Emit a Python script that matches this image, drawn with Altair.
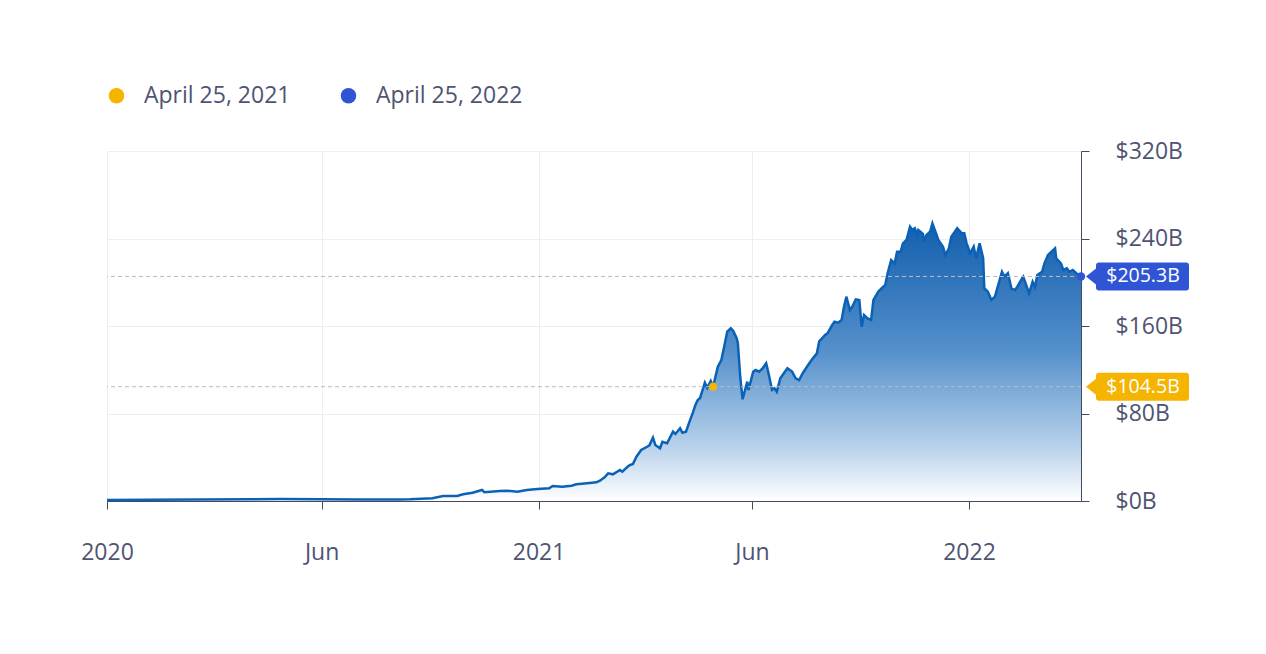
import altair as alt
import pandas as pd

# ---------------- data ----------------
dates = [
    "2020-01-01", "2020-02-06", "2020-03-20", "2020-05-01", "2020-05-27", "2020-06-30",
    "2020-08-02", "2020-09-05", "2020-09-14", "2020-10-03", "2020-10-12", "2020-10-24",
    "2020-10-29", "2020-11-06", "2020-11-14", "2020-11-16", "2020-11-29", "2020-12-05",
    "2020-12-14", "2020-12-22", "2020-12-31", "2021-01-10", "2021-01-13", "2021-01-21",
    "2021-01-29", "2021-02-02", "2021-02-11", "2021-02-19", "2021-02-22", "2021-02-26",
    "2021-03-01", "2021-03-05", "2021-03-11", "2021-03-13", "2021-03-17", "2021-03-19",
    "2021-03-22", "2021-03-25", "2021-03-29", "2021-04-03", "2021-04-05", "2021-04-08",
    "2021-04-10", "2021-04-14", "2021-04-16", "2021-04-20", "2021-04-25", "2021-04-27",
    "2021-05-01", "2021-05-03", "2021-05-06", "2021-05-09", "2021-05-12", "2021-05-14",
    "2021-05-16", "2021-05-18", "2021-05-22", "2021-05-24", "2021-05-27", "2021-05-29",
    "2021-06-02", "2021-06-05", "2021-06-08", "2021-06-10", "2021-06-13", "2021-06-15",
    "2021-06-18", "2021-06-19", "2021-06-21", "2021-06-23", "2021-06-27", "2021-06-28",
    "2021-07-02", "2021-07-04", "2021-07-07", "2021-07-10", "2021-07-13", "2021-07-15",
    "2021-07-18", "2021-07-20", "2021-07-22", "2021-07-25", "2021-07-28", "2021-07-31",
    "2021-08-04", "2021-08-07", "2021-08-10", "2021-08-13", "2021-08-17", "2021-08-21",
    "2021-08-25", "2021-08-27", "2021-09-01", "2021-09-03", "2021-09-07", "2021-09-09",
    "2021-09-12", "2021-09-15", "2021-09-17", "2021-09-19", "2021-09-22", "2021-09-24",
    "2021-09-27", "2021-09-30", "2021-10-02", "2021-10-04", "2021-10-07", "2021-10-10",
    "2021-10-12", "2021-10-16", "2021-10-19", "2021-10-22", "2021-10-24", "2021-10-27",
    "2021-10-30", "2021-11-01", "2021-11-04", "2021-11-06", "2021-11-09", "2021-11-12",
    "2021-11-14", "2021-11-16", "2021-11-18", "2021-11-19", "2021-11-23", "2021-11-24",
    "2021-11-26", "2021-11-29", "2021-12-01", "2021-12-04", "2021-12-06", "2021-12-10",
    "2021-12-12", "2021-12-15", "2021-12-17", "2021-12-20", "2021-12-22", "2021-12-26",
    "2021-12-28", "2021-12-30", "2022-01-02", "2022-01-05", "2022-01-07", "2022-01-10",
    "2022-01-13", "2022-01-14", "2022-01-17", "2022-01-20", "2022-01-23", "2022-01-25",
    "2022-01-29", "2022-01-31", "2022-02-03", "2022-02-06", "2022-02-09", "2022-02-11",
    "2022-02-15", "2022-02-16", "2022-02-19", "2022-02-21", "2022-02-24", "2022-02-26",
    "2022-02-28", "2022-03-04", "2022-03-06", "2022-03-09", "2022-03-12", "2022-03-15",
    "2022-03-16", "2022-03-20", "2022-03-22", "2022-03-25", "2022-03-27", "2022-03-30",
    "2022-04-02", "2022-04-06",
]
values = [
    0.9, 1.1, 1.4, 1.6, 1.8, 1.6,
    1.4, 1.4, 1.6, 2.5, 4.6, 4.6,
    6.1, 7.6, 10.1, 8.0, 9.1, 9.4,
    8.5, 10.1, 11.0, 11.6, 13.7, 13.1,
    14.0, 15.3, 16.2, 17.1, 18.6, 21.7,
    25.3, 24.4, 28.3, 26.8, 30.8, 32.6,
    33.8, 40.5, 46.6, 49.6, 50.9, 57.9,
    51.2, 48.2, 54.2, 52.8, 63.4, 61.3,
    66.5, 62.4, 63.4, 72.5, 81.2, 87.8,
    92.3, 94.2, 108.2, 103.5, 109.7, 104.5,
    122.8, 128.9, 144.2, 154.8, 157.9, 155.7,
    148.8, 144.2, 113.6, 93.0, 109.1, 101.5,
    118.2, 119.8, 118.2, 121.3, 125.9, 116.8,
    101.5, 103.0, 99.9, 112.2, 116.8, 121.3,
    118.2, 112.2, 110.6, 116.8, 123.4, 129.6,
    135.0, 146.0, 151.8, 153.3, 160.9, 163.9,
    163.0, 165.5, 177.6, 186.8, 174.6, 177.6,
    184.4, 183.8, 159.4, 170.1, 167.0, 165.5,
    183.8, 191.4, 194.5, 197.5, 208.2, 220.3,
    217.3, 227.9, 227.9, 235.6, 238.6, 250.8,
    247.8, 249.3, 243.2, 247.8, 244.1, 237.1,
    243.2, 246.2, 253.9, 244.8, 238.6, 232.5,
    224.9, 231.0, 241.6, 246.2, 249.3, 244.8,
    244.8, 235.6, 226.5, 232.5, 221.9, 235.6,
    222.2, 194.5, 191.4, 183.8, 186.8, 194.5,
    209.6, 205.1, 208.2, 194.5, 192.9, 195.9,
    203.6, 205.1, 195.9, 189.9, 200.5, 195.9,
    206.6, 209.6, 217.3, 224.9, 227.9, 231.0,
    221.9, 217.3, 211.2, 212.7, 209.6, 211.2,
    208.2, 205.3,
]

tick_dates = ["2020-01-01", "2020-07-01", "2021-01-01", "2021-07-01", "2022-01-01"]
tick_labels = ["2020", "Jun", "2021", "Jun", "2022"]
y_ticks = [0, 80, 160, 240, 320]
domain_dates = ["2020-01-01", "2022-04-06"]

marker_labels = ["April 25, 2021", "April 25, 2022"]
marker_dates = ["2021-05-29", "2022-04-06"]
marker_values = [104.5, 205.3]
badge_texts = ["$104.5B", "$205.3B"]
marker_colors = ["#F5B400", "#2F55D4"]

# ---------------- helpers ----------------
def to_ms(d):
    return int(pd.Timestamp(d, tz="UTC").value // 10**6)

tick_ms = [to_ms(d) for d in tick_dates]
domain_ms = [to_ms(d) for d in domain_dates]
label_expr = " : ".join(
    f"time(datum.value) == {ms} ? '{lab}'" for ms, lab in zip(tick_ms, tick_labels)
) + " : ''"

series = pd.DataFrame({"date": dates, "value": values})
markers = pd.DataFrame({"label": marker_labels, "date": marker_dates, "value": marker_values})
badges = pd.DataFrame({
    "label": marker_labels,
    "edge": [domain_dates[1]] * len(marker_labels),
    "value": marker_values,
    "text": badge_texts,
})

FONT = "Open Sans"
TEXT = "#4f5472"
AXIS = "#444a60"

xscale = alt.Scale(type="utc", domain=domain_ms, nice=False)
yscale = alt.Scale(domain=[0, 320], nice=False)
cscale = alt.Scale(domain=marker_labels, range=marker_colors)

x_axis = alt.Axis(values=tick_ms, labelExpr=label_expr, title=None, grid=True,
                  gridColor="#eeeeee", domainColor=AXIS, tickColor=AXIS, tickSize=8,
                  labelPadding=32, labelFontSize=23, labelColor=TEXT, labelFont=FONT,
                  labelFlush=False, labelOverlap=False)
y_axis = alt.Axis(orient="right", values=y_ticks, labelExpr="'$' + datum.value + 'B'",
                  title=None, grid=True, gridColor="#eeeeee", domainColor=AXIS,
                  tickColor=AXIS, tickSize=8, labelPadding=26, labelFontSize=23,
                  labelColor=TEXT, labelFont=FONT)

base = alt.Chart(series)

area = base.mark_area(
    color=alt.Gradient(
        gradient="linear",
        stops=[
            alt.GradientStop(color="#0c5aab", offset=0),
            alt.GradientStop(color="#4d8bc9", offset=0.45),
            alt.GradientStop(color="#b4cfea", offset=0.8),
            alt.GradientStop(color="#ffffff", offset=1),
        ],
        x1=0, x2=0, y1=0, y2=1,
    ),
    opacity=0.97,
).encode(
    x=alt.X("date:T", scale=xscale, axis=x_axis),
    y=alt.Y("value:Q", scale=yscale, axis=y_axis),
)

line = base.mark_line(color="#0a62b6", strokeWidth=2.5).encode(
    x=alt.X("date:T", scale=xscale),
    y=alt.Y("value:Q", scale=yscale),
)

rules = alt.Chart(markers).mark_rule(color="#b9bac2", strokeDash=[4, 3], strokeWidth=1).encode(
    y=alt.Y("value:Q", scale=yscale),
)

dots = alt.Chart(markers).mark_circle(size=70, opacity=1).encode(
    x=alt.X("date:T", scale=xscale),
    y=alt.Y("value:Q", scale=yscale),
    color=alt.Color("label:N", scale=cscale, legend=alt.Legend(
        orient="none", legendX=-2, legendY=-67, direction="horizontal", title=None,
        symbolType="circle", symbolSize=240, symbolOpacity=1, labelFontSize=23,
        labelFont=FONT, labelColor=TEXT, labelOffset=16, columnPadding=46,
        symbolStrokeWidth=0,
    )),
)

badge_path = ("M5,0 L15,-8 L15,-11 Q15,-14 18,-14 L105,-14 Q108,-14 108,-11 "
              "L108,11 Q108,14 105,14 L18,14 Q15,14 15,11 L15,8 Z")

badge_shape = alt.Chart(badges).mark_point(
    shape=badge_path, size=4, filled=True, opacity=1, strokeWidth=0
).encode(
    x=alt.X("edge:T", scale=xscale),
    y=alt.Y("value:Q", scale=yscale),
    color=alt.Color("label:N", scale=cscale, legend=None),
)

badge_text = alt.Chart(badges).mark_text(
    dx=62, align="center", baseline="middle", fontSize=19.5, font=FONT, color="white"
).encode(
    x=alt.X("edge:T", scale=xscale),
    y=alt.Y("value:Q", scale=yscale),
    text="text:N",
)

chart = alt.layer(area, line, rules, dots, badge_shape, badge_text).properties(
    width=974,
    height=350,
    padding={"left": 107, "top": 151, "right": 185, "bottom": 153},
    autosize=alt.AutoSizeParams(type="none"),
    background="white",
).configure_view(stroke=None)

chart.save("out.html", embed_options={"renderer": "svg", "actions": False})
